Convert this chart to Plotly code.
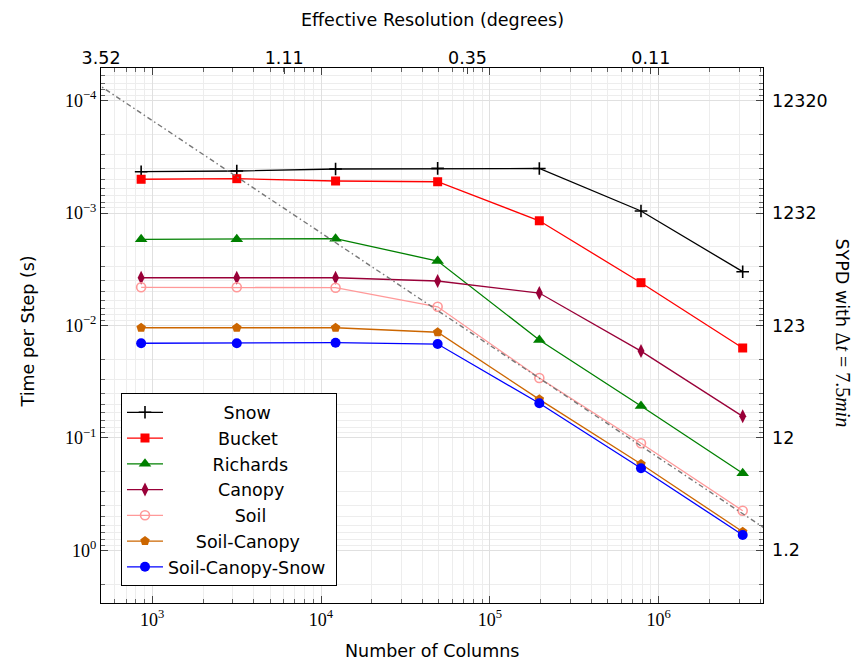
import plotly.graph_objects as go

# ---------------- data ----------------
columns = [860, 3170, 12200, 49100, 196500, 786500, 3149000]

snow = [4.28e-4, 4.22e-4, 4.05e-4, 4.00e-4, 4.01e-4, 9.58e-4, 3.32e-3]
bucket = [5.00e-4, 4.94e-4, 5.18e-4, 5.26e-4, 1.17e-3, 4.16e-3, 1.585e-2]
richards = [1.71e-3, 1.71e-3, 1.69e-3, 2.67e-3, 1.345e-2, 5.20e-2, 0.2065]
canopy = [3.76e-3, 3.76e-3, 3.76e-3, 4.02e-3, 5.14e-3, 1.69e-2, 6.43e-2]
soil = [4.57e-3, 4.57e-3, 4.61e-3, 6.81e-3, 2.93e-2, 0.1117, 0.4446]
soil_canopy = [1.047e-2, 1.047e-2, 1.047e-2, 1.148e-2, 4.54e-2, 0.1706, 0.684]
soil_canopy_snow = [1.439e-2, 1.439e-2, 1.422e-2, 1.462e-2, 4.92e-2, 0.1862, 0.731]

# ideal (linear) scaling reference line, two end points
ideal_columns = [400, 5.0e6]
ideal_time = [6.0e-5, 0.75]

series_names = ["Snow", "Bucket", "Richards", "Canopy", "Soil", "Soil-Canopy", "Soil-Canopy-Snow"]
series_values = [snow, bucket, richards, canopy, soil, soil_canopy, soil_canopy_snow]

# tick labels
bottom_tickvals = [1e3, 1e4, 1e5, 1e6]
bottom_ticktext = ["10<sup>3</sup>", "10<sup>4</sup>", "10<sup>5</sup>", "10<sup>6</sup>"]
left_tickvals = [1e-4, 1e-3, 1e-2, 1e-1, 1e0]
left_ticktext = ["10<sup>\u22124</sup>", "10<sup>\u22123</sup>", "10<sup>\u22122</sup>",
                 "10<sup>\u22121</sup>", "10<sup>0</sup>"]
sypd_ticktext = ["12320", "1232", "123", "12", "1.2"]
top_tickvals = [498, 6053, 73780, 898900]          # column counts at which resolution labels sit
top_ticktext = ["3.52", "1.11", "0.35", "0.11"]

# ---------------- styles ----------------
colors = ["#000000", "#ff0000", "#008000", "#990038", "#ff9999", "#cc6600", "#0000ff"]
symbols = ["cross-thin", "square", "triangle-up", "diamond-tall", "circle-open", "pentagon", "circle"]
sizes = [9, 9, 11, 10, 9, 10, 10]
pads = [10, 9, 8, 9, 12, 5, 0]

SANS = "DejaVu Sans"
SERIF = "Liberation Serif"
FS = 17.5

fig = go.Figure()

for name, vals, col, sym, sz, pad in zip(series_names, series_values, colors, symbols, sizes, pads):
    marker = dict(symbol=sym, size=sz, color=col)
    if sym in ("cross-thin", "circle-open"):
        marker["line"] = dict(color=col, width=1.6)
    else:
        marker["line"] = dict(width=0)
    fig.add_trace(go.Scatter(
        x=columns, y=vals, name="\u00a0" * pad + name + "\u00a0",
        mode="lines+markers", line=dict(color=col, width=1.3),
        marker=marker, cliponaxis=True,
    ))

fig.add_trace(go.Scatter(
    x=ideal_columns, y=ideal_time, mode="lines", showlegend=False,
    line=dict(color="#777777", width=1.4, dash="5px,3px,1.5px,3px"),
    hoverinfo="skip",
))

# dummy trace so the secondary (top / right) axes are drawn
fig.add_trace(go.Scatter(
    x=[columns[0]], y=[snow[0]], xaxis="x2", yaxis="y2", mode="markers",
    marker=dict(opacity=0), showlegend=False, hoverinfo="skip",
))

xrange = [2.6967, 6.6185]
yrange = [0.4689, -4.291]

minor_x = [k * 10 ** e for e in range(2, 7) for k in range(2, 10)]
minor_y = [k * 10.0 ** e for e in range(-5, 1) for k in range(2, 10)]

grid_major = "#e0e0e0"
grid_minor = "#ededed"

fig.update_layout(
    width=860, height=662,
    margin=dict(l=101, r=97, t=68, b=59),
    paper_bgcolor="white", plot_bgcolor="white",
    font=dict(family=SANS, size=FS, color="black"),
    showlegend=True,
    legend=dict(
        x=0.0302, y=0.031, xanchor="left", yanchor="bottom",
        bgcolor="white", bordercolor="black", borderwidth=1,
        font=dict(family=SANS, size=FS, color="black"),
        itemwidth=36, tracegroupgap=0,
    ),
    xaxis=dict(
        type="log", range=xrange,
        tickmode="array", tickvals=bottom_tickvals, ticktext=bottom_ticktext,
        tickfont=dict(family=SERIF, size=18, color="black"),
        ticks="inside", ticklen=7, tickcolor="#444", tickwidth=1,
        showline=True, linecolor="black", linewidth=1, mirror="ticks",
        showgrid=True, gridcolor=grid_major, gridwidth=1,
        minor=dict(tickmode="array", tickvals=minor_x, ticks="inside", ticklen=4,
                   tickcolor="#666", showgrid=True, gridcolor=grid_minor, gridwidth=1),
        zeroline=False,
    ),
    yaxis=dict(
        type="log", range=yrange,
        tickmode="array", tickvals=left_tickvals, ticktext=left_ticktext,
        tickfont=dict(family=SERIF, size=18, color="black"),
        ticks="inside", ticklen=7, tickcolor="#444", tickwidth=1,
        showline=True, linecolor="black", linewidth=1, mirror="ticks",
        showgrid=True, gridcolor=grid_major, gridwidth=1,
        minor=dict(tickmode="array", tickvals=minor_y, ticks="inside", ticklen=4,
                   tickcolor="#666", showgrid=True, gridcolor=grid_minor, gridwidth=1),
        zeroline=False,
    ),
    xaxis2=dict(
        type="log", range=xrange, overlaying="x", side="top",
        tickmode="array", tickvals=top_tickvals, ticktext=top_ticktext,
        tickfont=dict(family=SANS, size=FS, color="black"),
        ticks="inside", ticklen=6, tickcolor="#444",
        showgrid=False, showline=False, zeroline=False,
    ),
    yaxis2=dict(
        type="log", range=yrange, overlaying="y", side="right",
        tickmode="array", tickvals=left_tickvals, ticktext=sypd_ticktext,
        tickfont=dict(family=SANS, size=FS, color="black"),
        ticks="", showgrid=False, showline=False, zeroline=False,
        ticklabelstandoff=8,
    ),
)

fig.add_annotation(text="Number of Columns", xref="paper", yref="paper", x=0.5, y=0,
                   xanchor="center", yanchor="middle", yshift=-48, showarrow=False,
                   font=dict(family=SANS, size=FS))
fig.add_annotation(text="Effective Resolution (degrees)", xref="paper", yref="paper", x=0.5, y=1,
                   xanchor="center", yanchor="middle", yshift=48, showarrow=False,
                   font=dict(family=SANS, size=FS))
fig.add_annotation(text="Time per Step (s)", xref="paper", yref="paper", x=0, y=0.5,
                   xanchor="center", yanchor="middle", xshift=-74, yshift=4, textangle=-90,
                   showarrow=False, font=dict(family=SANS, size=FS))
fig.add_annotation(
    text="SYPD with <span style='font-family:Liberation Serif;font-size:20px'>"
         "\u0394<i>t</i>\u00a0=\u00a07.5<i>min</i></span>",
    xref="paper", yref="paper", x=1, y=0.5,
    xanchor="center", yanchor="middle", xshift=80, yshift=3, textangle=90,
    showarrow=False, font=dict(family=SANS, size=FS))

fig.write_html("out.html", config={"displayModeBar": False},
               post_script="document.body.style.margin='0px';")
